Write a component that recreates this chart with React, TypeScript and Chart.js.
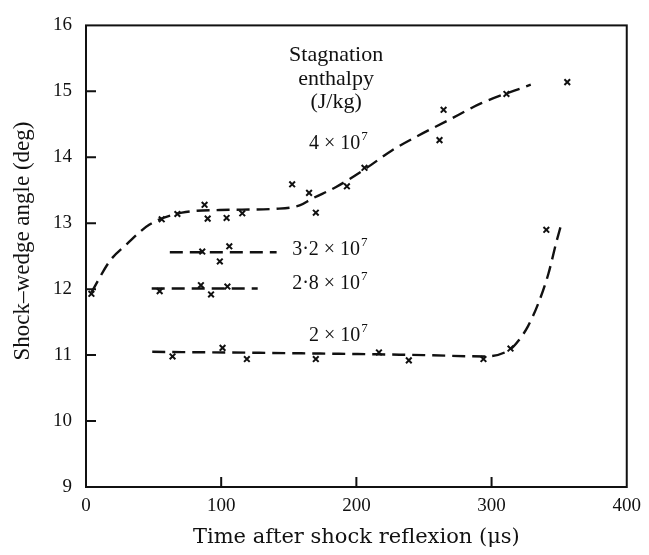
import React, { useEffect, useRef } from "react";
import { Chart, registerables } from "chart.js";

Chart.register(...registerables);

// ---- data ----
const X_MIN = 0;
const X_MAX = 400;
const Y_MIN = 9;
const Y_MAX = 16;
const X_INNER_TICKS = [100, 200, 300];
const Y_INNER_TICKS = [10, 11, 12, 13, 14, 15];

// fitted (dashed) curves
const CURVE_40_X = [4, 17.7, 30, 47, 71, 99, 141, 158, 167, 185, 207, 226, 246, 266, 292.5, 329];
const CURVE_40_Y = [11.95, 12.43, 12.68, 12.98, 13.16, 13.2, 13.22, 13.27, 13.37, 13.55, 13.83, 14.1, 14.33, 14.54, 14.82, 15.1];
const CURVE_32_X = [62, 141];
const CURVE_32_Y = [12.56, 12.56];
const CURVE_28_X = [48.6, 127];
const CURVE_28_Y = [12.01, 12.01];
const CURVE_20_X = [49, 150, 250, 295, 314, 320, 327, 334.5, 342, 348, 351.5];
const CURVE_20_Y = [11.05, 11.03, 11.0, 10.98, 11.09, 11.22, 11.44, 11.78, 12.23, 12.72, 12.98];

// measured points (crosses)
const PTS_40_X = [4, 56, 67.6, 87.7, 90, 104, 115.6, 152.5, 165, 170, 193, 206, 261.5, 264.5, 311, 356];
const PTS_40_Y = [11.93, 13.06, 13.14, 13.28, 13.07, 13.08, 13.15, 13.59, 13.46, 13.16, 13.56, 13.84, 14.26, 14.72, 14.96, 15.14];
const PTS_32_X = [86, 99, 106];
const PTS_32_Y = [12.57, 12.42, 12.65];
const PTS_28_X = [54.5, 85, 92.5, 104.6];
const PTS_28_Y = [11.97, 12.06, 11.92, 12.04];
const PTS_20_X = [64, 101, 119, 170, 216.7, 238.8, 294, 314, 340.5];
const PTS_20_Y = [10.98, 11.11, 10.94, 10.94, 11.04, 10.92, 10.94, 11.1, 12.9];

// text annotations (positions in data units)
const HEADER_LINES = ["Stagnation", "enthalpy", "(J/kg)"];
const HEADER_X = 185;
const HEADER_Y = [15.55, 15.18, 14.84];
const SERIES_LABELS = ["4 × 10", "3·2 × 10", "2·8 × 10", "2 × 10"];
const SERIES_EXP = "7";
const SERIES_LABEL_X = [165, 152.5, 152.5, 165];
const SERIES_LABEL_Y = [14.21, 12.6, 12.08, 11.29];

const X_TITLE = "Time after shock reflexion (μs)";
const Y_TITLE = "Shock–wedge angle (deg)";

const INK = "#111111";
const SERIF = "'Liberation Serif', 'Times New Roman', serif";

function zip(xs: number[], ys: number[]) {
  return xs.map((x, i) => ({ x, y: ys[i] }));
}

function curve(xs: number[], ys: number[]) {
  return {
    data: zip(xs, ys),
    showLine: true,
    borderColor: INK,
    borderWidth: 2.4,
    borderDash: [13, 7],
    pointRadius: 0,
    cubicInterpolationMode: "monotone" as const,
    fill: false,
  };
}

function points(xs: number[], ys: number[]) {
  return {
    data: zip(xs, ys),
    showLine: false,
    pointStyle: "crossRot" as const,
    pointRadius: 4,
    borderColor: INK,
    backgroundColor: INK,
    pointBorderWidth: 2,
  };
}

const decorPlugin = {
  id: "decor",
  afterDraw(chart: any) {
    const { ctx, chartArea, scales } = chart;
    const xs = scales.x;
    const ys = scales.y;
    ctx.save();
    ctx.strokeStyle = INK;
    ctx.lineWidth = 2;
    ctx.setLineDash([]);
    ctx.strokeRect(chartArea.left, chartArea.top, chartArea.right - chartArea.left, chartArea.bottom - chartArea.top);
    ctx.beginPath();
    X_INNER_TICKS.forEach((v) => {
      const px = xs.getPixelForValue(v);
      ctx.moveTo(px, chartArea.bottom);
      ctx.lineTo(px, chartArea.bottom - 10);
    });
    Y_INNER_TICKS.forEach((v) => {
      const py = ys.getPixelForValue(v);
      ctx.moveTo(chartArea.left, py);
      ctx.lineTo(chartArea.left + 10, py);
    });
    ctx.stroke();

    ctx.fillStyle = INK;
    ctx.textBaseline = "middle";
    ctx.textAlign = "center";
    ctx.font = `22px ${SERIF}`;
    HEADER_LINES.forEach((t, i) => {
      ctx.fillText(t, xs.getPixelForValue(HEADER_X), ys.getPixelForValue(HEADER_Y[i]));
    });

    SERIES_LABELS.forEach((t, i) => {
      const px = xs.getPixelForValue(SERIES_LABEL_X[i]);
      const py = ys.getPixelForValue(SERIES_LABEL_Y[i]);
      ctx.textAlign = "left";
      ctx.font = `20px ${SERIF}`;
      ctx.fillText(t, px, py);
      const w = ctx.measureText(t).width;
      ctx.font = `13px ${SERIF}`;
      ctx.fillText(SERIES_EXP, px + w + 1, py - 7);
    });

    // y axis title
    ctx.save();
    ctx.font = `23px ${SERIF}`;
    ctx.textAlign = "center";
    ctx.textBaseline = "middle";
    ctx.translate(23, 241);
    ctx.rotate(-Math.PI / 2);
    ctx.fillText(Y_TITLE, 0, 0);
    ctx.restore();

    ctx.restore();
  },
};

export default function App() {
  const canvasRef = useRef<HTMLCanvasElement | null>(null);

  useEffect(() => {
    const canvas = canvasRef.current;
    if (!canvas) return;
    const chart = new Chart(canvas, {
      type: "scatter",
      data: {
        datasets: [
          curve(CURVE_40_X, CURVE_40_Y),
          curve(CURVE_32_X, CURVE_32_Y),
          curve(CURVE_28_X, CURVE_28_Y),
          curve(CURVE_20_X, CURVE_20_Y),
          points(PTS_40_X, PTS_40_Y),
          points(PTS_32_X, PTS_32_Y),
          points(PTS_28_X, PTS_28_Y),
          points(PTS_20_X, PTS_20_Y),
        ] as any,
      },
      options: {
        responsive: false,
        animation: false,
        devicePixelRatio: 1,
        layout: { padding: { left: 0, top: 17, right: 19, bottom: 0 } },
        plugins: {
          legend: { display: false },
          tooltip: { enabled: false },
        },
        scales: {
          x: {
            type: "linear",
            min: X_MIN,
            max: X_MAX,
            afterFit(scale: any) {
              scale.height = 68;
            },
            grid: { display: false, drawTicks: false },
            border: { display: false },
            ticks: {
              stepSize: 100,
              autoSkip: false,
              maxRotation: 0,
              padding: 8,
              color: INK,
              font: { family: SERIF, size: 19 },
            },
            title: {
              display: true,
              text: X_TITLE,
              color: INK,
              font: { family: "'DejaVu Serif', serif", size: 21 },
              padding: { top: 0, bottom: 5 },
            },
          },
          y: {
            type: "linear",
            min: Y_MIN,
            max: Y_MAX,
            afterFit(scale: any) {
              scale.width = 86;
            },
            grid: { display: false, drawTicks: false },
            border: { display: false },
            ticks: {
              stepSize: 1,
              autoSkip: false,
              padding: 14,
              color: INK,
              font: { family: SERIF, size: 19 },
            },
          },
        },
      },
      plugins: [decorPlugin],
    });
    return () => chart.destroy();
  }, []);

  return (
    <div style={{ position: "fixed", left: 0, top: 0, width: 649, height: 555, background: "#ffffff" }}>
      <canvas ref={canvasRef} width={649} height={555} style={{ width: 649, height: 555, display: "block" }} />
    </div>
  );
}
